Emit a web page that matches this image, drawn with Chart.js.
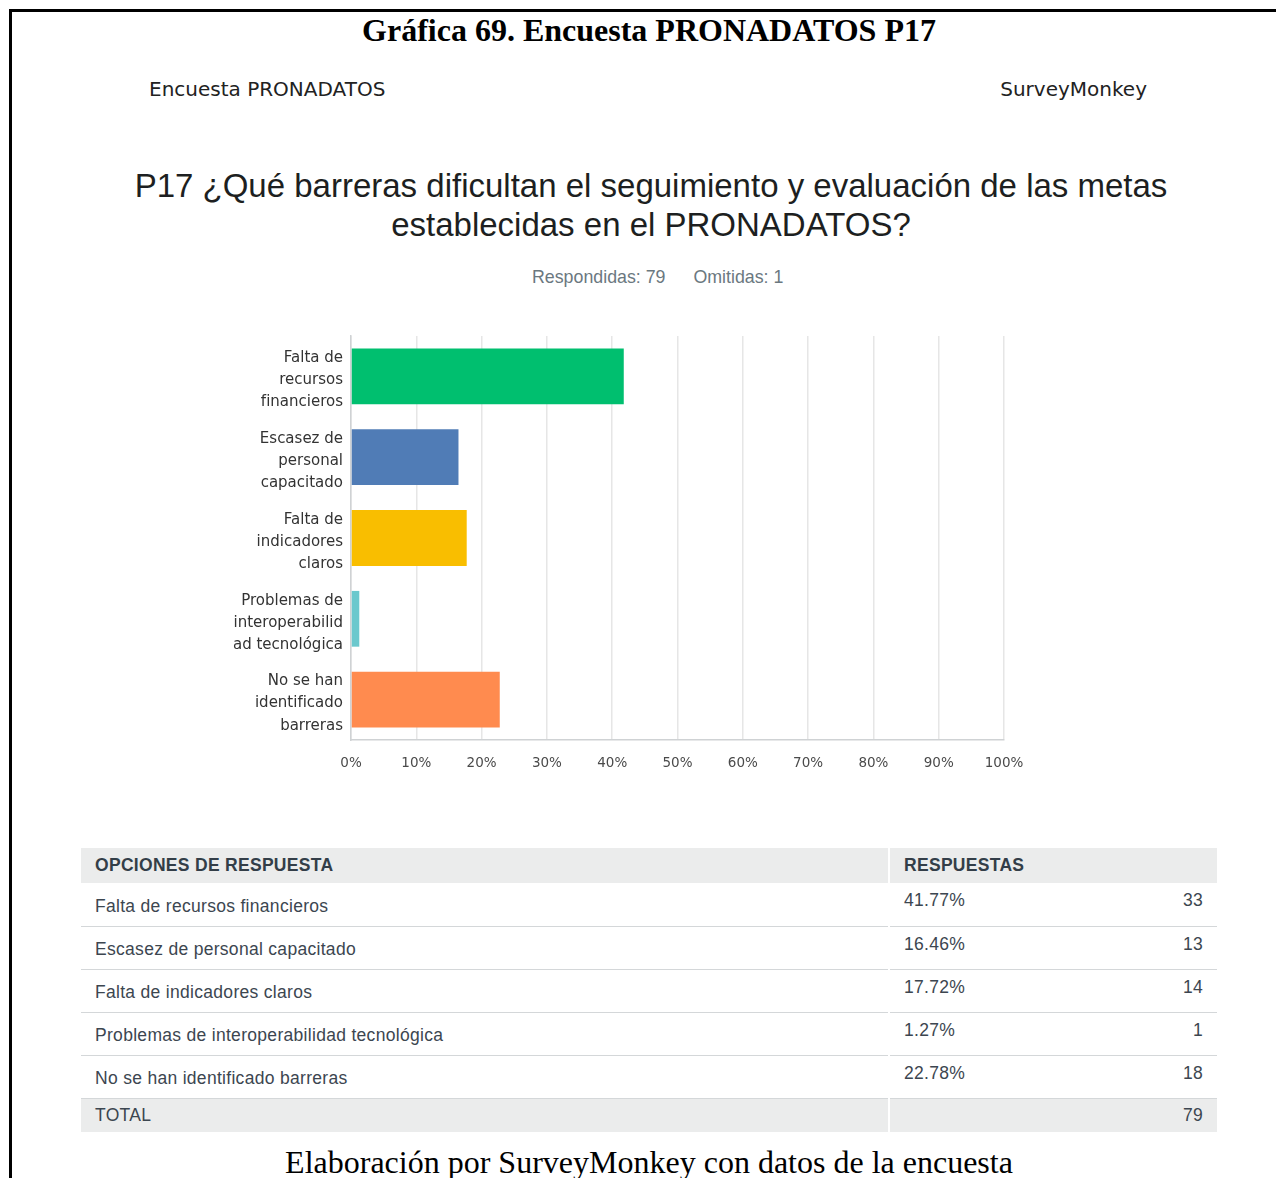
<!DOCTYPE html>
<html lang="es">
<head>
<meta charset="UTF-8">
<title>Gráfica 69. Encuesta PRONADATOS P17</title>
<script src="https://cdn.jsdelivr.net/npm/chart.js"></script>
<style>
  html, body { margin: 0; padding: 0; background: #fff; }
  body { width: 1276px; height: 1178px; position: relative; overflow: hidden; }
  .frame { position: absolute; left: 9px; top: 9px; right: -10px; bottom: -10px;
           border-left: 3px solid #000; border-top: 3px solid #000; }
  .fig-title { position: absolute; left: 0; width: 1298px; top: 12px; text-align: center;
               font-family: "Liberation Serif", serif; font-weight: bold; font-size: 32px; color: #000; }
  .hdr { position: absolute; top: 77px; font-family: "DejaVu Sans", sans-serif; font-size: 20px; color: #222; }
  .q-title { position: absolute; left: 0; width: 1302px; top: 166px; text-align: center;
             font-family: "Liberation Sans", Arial, sans-serif; font-size: 33px; line-height: 39px; color: #1d1f21; }
  .meta { position: absolute; left: 532px; top: 267px; font-family: "Liberation Sans", Arial, sans-serif;
          font-size: 17.8px; color: #6b787f; }
  .meta span + span { margin-left: 28px; }
  #chartBox { position: absolute; left: 180px; top: 326px; width: 860px; height: 454px; }
  table { position: absolute; left: 81px; top: 848px; width: 1136px; border-collapse: collapse; table-layout: fixed;
          font-family: "Liberation Sans", Arial, sans-serif; font-size: 17.5px; color: #3c4650; letter-spacing: 0.3px; }
  th { background: #ebecec; text-align: left; font-weight: bold; color: #333e48; height: 35px;
       padding: 0 14px; }
  td { padding: 0 14px; border-bottom: 1px solid #d4d7d9; box-sizing: border-box; }
  th.c1, td.c1 { border-right: 2px solid #fff; }
  td.lbl { height: 43px; padding-top: 4px; vertical-align: middle; }
  td.pct, td.cnt { height: 43px; vertical-align: top; padding-top: 7px; }
  td.cnt { text-align: right; }
  tr.total td { background: #ebecec; height: 34px; border-bottom: none; padding-top: 0; vertical-align: middle; }
  .caption { position: absolute; left: 0; width: 1298px; top: 1144px; text-align: center;
             font-family: "Liberation Serif", serif; font-size: 32px; color: #000; }
</style>
</head>
<body>
<div class="frame"></div>
<div class="fig-title">Gráfica 69. Encuesta PRONADATOS P17</div>
<div class="hdr" style="left:149px">Encuesta PRONADATOS</div>
<div class="hdr" style="right:129px">SurveyMonkey</div>
<div class="q-title">P17 ¿Qué barreras dificultan el seguimiento y evaluación de las metas<br>establecidas en el PRONADATOS?</div>
<div class="meta"><span>Respondidas: 79</span><span>Omitidas: 1</span></div>

<div id="chartBox"><canvas id="barChart"></canvas></div>

<table id="answers">
  <colgroup><col style="width:808px"><col style="width:180px"><col style="width:148px"></colgroup>
  <thead>
    <tr><th class="c1">OPCIONES DE RESPUESTA</th><th colspan="2">RESPUESTAS</th></tr>
  </thead>
  <tbody></tbody>
</table>

<div class="caption">Elaboración por SurveyMonkey con datos de la encuesta</div>

<script>
// answer options, as wrapped on the chart axis and as written in the table
const axisLabels = [
  ['Falta de', 'recursos', 'financieros'],
  ['Escasez de', 'personal', 'capacitado'],
  ['Falta de', 'indicadores', 'claros'],
  ['Problemas de', 'interoperabilid', 'ad tecnológica'],
  ['No se han', 'identificado', 'barreras']
];
const options = [
  'Falta de recursos financieros',
  'Escasez de personal capacitado',
  'Falta de indicadores claros',
  'Problemas de interoperabilidad tecnológica',
  'No se han identificado barreras'
];
const percents = [41.77, 16.46, 17.72, 1.27, 22.78];
const counts = [33, 13, 14, 1, 18];
const total = 79;
const barColors = ['#00bf6f', '#507cb6', '#f9be00', '#6bc8cd', '#ff8b4f'];

// fill the response table
const tbody = document.querySelector('#answers tbody');
options.forEach((opt, i) => {
  const tr = document.createElement('tr');
  tr.innerHTML = `<td class="c1 lbl">${opt}</td><td class="pct">${percents[i].toFixed(2)}%</td><td class="cnt">${counts[i]}</td>`;
  tbody.appendChild(tr);
});
const totalRow = document.createElement('tr');
totalRow.className = 'total';
totalRow.innerHTML = `<td class="c1">TOTAL</td><td></td><td class="cnt">${total}</td>`;
tbody.appendChild(totalRow);

new Chart(document.getElementById('barChart'), {
  type: 'bar',
  data: {
    labels: axisLabels,
    datasets: [{
      data: percents,
      backgroundColor: barColors,
      borderWidth: 0,
      barPercentage: 0.69,
      categoryPercentage: 1.0
    }]
  },
  options: {
    indexAxis: 'y',
    responsive: true,
    maintainAspectRatio: false,
    animation: false,
    layout: { padding: { top: 10, right: 36, left: 0, bottom: 0 } },
    plugins: { legend: { display: false }, tooltip: { enabled: false } },
    scales: {
      x: {
        min: 0,
        max: 100,
        ticks: {
          stepSize: 10,
          padding: 15,
          color: '#4a4a4a',
          font: { family: 'DejaVu Sans', size: 13.5 },
          callback: v => v + '%'
        },
        grid: { color: '#e6e6e6', lineWidth: 1.5, drawTicks: false },
        border: { color: '#cfd2d4', width: 1.5 },
        afterFit: s => { s.height = 40; s.paddingLeft = 0; s.paddingRight = 0; }
      },
      y: {
        ticks: { padding: 8, labelOffset: 4, color: '#333', font: { family: 'DejaVu Sans', size: 15, lineHeight: 1.47 } },
        grid: { display: false, drawTicks: false },
        border: { color: '#cfd2d4', width: 1.5 },
        afterFit: s => { s.width = 171; s.paddingTop = 0; s.paddingBottom = 0; }
      }
    }
  }
});
</script>
</body>
</html>
